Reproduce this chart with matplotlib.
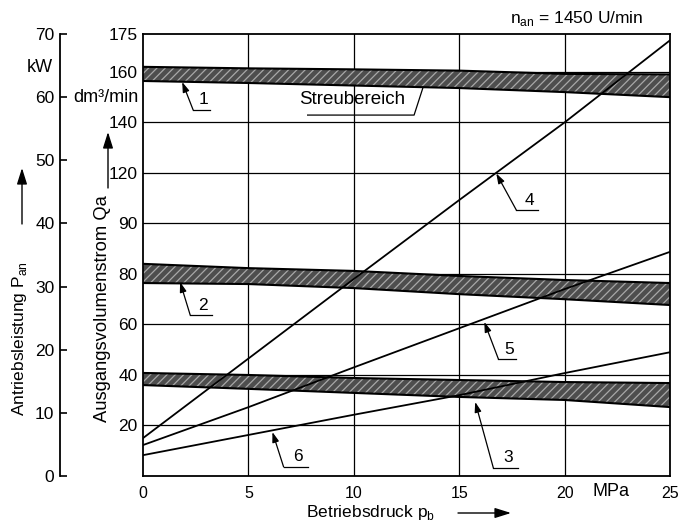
import numpy as np
import matplotlib
matplotlib.use("Agg")
import matplotlib.pyplot as plt

plt.rcParams['font.family'] = ['Liberation Sans', 'DejaVu Sans']
plt.rcParams['mathtext.fontset'] = 'custom'
plt.rcParams['mathtext.rm'] = 'Liberation Sans'
plt.rcParams['hatch.linewidth'] = 0.9

# Betriebsdruck p_b in MPa
pressure = [0, 5, 10, 15, 20, 25]

# Streubereiche (Ausgangsvolumenstrom Qa in dm3/min), upper / lower edge
band1_top = [162.0, 161.4, 161.0, 160.5, 159.2, 159.0]
band1_bot = [156.4, 155.6, 154.6, 153.6, 152.0, 150.0]
band2_top = [84.0, 82.3, 81.2, 79.2, 77.6, 76.4]
band2_bot = [76.4, 76.0, 74.4, 72.0, 70.0, 67.7]
band3_top = [40.8, 40.0, 38.8, 38.0, 37.2, 36.8]
band3_bot = [36.0, 34.5, 32.9, 31.3, 30.1, 27.3]

# Antriebsleistung P_an in kW
power4 = [6.0, 18.6, 31.2, 43.7, 56.0, 69.0]
power5 = [4.9, 10.9, 17.2, 23.4, 29.6, 35.5]
power6 = [3.3, 6.5, 9.7, 12.8, 16.3, 19.6]

q_ticks = [20, 40, 60, 80, 100, 120, 140, 160, 175]
q_labels = ['20', '40', '60', '80', '90', '120', '140', '160', '175']
p_ticks = [0, 5, 10, 15, 20, 25]
kw_ticks = [0, 10, 20, 30, 40, 50, 60, 70]

fig = plt.figure(figsize=(6.86, 5.22), dpi=100)
ax = fig.add_axes([143/686, 1 - 476/522, 527/686, 442/522])
ax.set_xlim(0, 25)
ax.set_ylim(0, 175)

# grid
for q in range(20, 175, 20):
    ax.axhline(q, color='k', lw=0.9, zorder=1)
for p in [5, 10, 15, 20]:
    ax.axvline(p, color='k', lw=0.9, zorder=1)

# bands
for top, bot in [(band1_top, band1_bot), (band2_top, band2_bot), (band3_top, band3_bot)]:
    ax.fill_between(pressure, bot, top, facecolor='#4e4e4e', edgecolor='#a8a8a8',
                    hatch='////', linewidth=0, zorder=2)
    ax.plot(pressure, top, color='k', lw=1.5, zorder=3)
    ax.plot(pressure, bot, color='k', lw=1.5, zorder=3)

ax.set_yticks(q_ticks)
ax.set_yticklabels(q_labels)
ax.set_xticks(p_ticks)
ax.tick_params(axis='both', length=0)
ax.tick_params(axis='y', pad=4, labelsize=12.5)
ax.tick_params(axis='x', pad=7, labelsize=11.5)
for s in ax.spines.values():
    s.set_linewidth(1.3)

# power axis
ax2 = ax.twinx()
ax2.set_ylim(0, 70)
ax2.yaxis.set_ticks_position('left')
ax2.spines['left'].set_position(('axes', -83/527))
ax2.spines['right'].set_visible(False)
ax2.spines['top'].set_visible(False)
ax2.spines['bottom'].set_visible(False)
ax2.spines['left'].set_linewidth(1.3)
ax2.set_yticks(kw_ticks)
ax2.tick_params(axis='y', direction='in', length=5, width=1.2, labelsize=12.5, pad=4)

ax2.plot(pressure, power4, color='k', lw=1.3)
ax2.plot(pressure, power5, color='k', lw=1.3)
ax2.plot(pressure, power6, color='k', lw=1.3)

# callouts: (label, tip, elbow, end of underline)
callouts = [
    ('1', (1.86, 156), (2.38, 144.9), (3.19, 144.9)),
    ('2', (1.76, 76.8), (2.24, 63.7), (3.29, 63.7)),
    ('3', (15.76, 29.3), (16.62, 3.2), (17.81, 3.2)),
    ('4', (16.76, 119.8), (17.71, 105.3), (18.76, 105.3)),
    ('5', (16.19, 61.0), (16.86, 46.3), (17.71, 46.3)),
    ('6', (6.14, 17.4), (6.67, 3.6), (7.81, 3.6)),
]
for lab, tip, elbow, end in callouts:
    ax.annotate('', xy=tip, xytext=elbow,
                arrowprops=dict(arrowstyle='-|>,head_length=0.6,head_width=0.2', color='k',
                                lw=0.9, mutation_scale=10, shrinkA=0, shrinkB=0), zorder=5)
    ax.plot([elbow[0], end[0]], [elbow[1], end[1]], color='k', lw=0.9, zorder=5)
    ax.text((elbow[0] + end[0]) / 2 + 0.1, elbow[1] + 1.0, lab, ha='center', va='bottom',
            fontsize=12.5, zorder=5)

ax.text(9.93, 149, 'Streubereich', ha='center', va='center', fontsize=13.5, zorder=5)
ax.plot([7.81, 12.86, 13.29], [142.9, 142.9, 154], color='k', lw=0.9, zorder=5)

# labels and units
fig.text(577/686, 1 - 18/522, r'n$_{\rm an}$ = 1450 U/min', ha='center', va='center', fontsize=12.5)
fig.text(53/686, 1 - 68/522, 'kW', ha='right', va='center', fontsize=13)
fig.text(139/686, 1 - 98/522, 'dm³/min', ha='right', va='center', fontsize=13)
fig.text(611/686, 1 - 491/522, 'MPa', ha='center', va='center', fontsize=13)
fig.text(20/686, 1 - 339/522, r'Antriebsleistung P$_{\rm an}$', rotation=90,
         ha='center', va='center', fontsize=12.5)
fig.text(103/686, 1 - 309/522, 'Ausgangsvolumenstrom Qa', rotation=90,
         ha='center', va='center', fontsize=13.2)
fig.text(371/686, 1 - 512/522, r'Betriebsdruck p$_{\rm b}$', ha='center', va='center', fontsize=12.5)

arrow = dict(arrowstyle='-|>,head_length=0.7,head_width=0.22', color='k', lw=1.0,
             mutation_scale=14, shrinkA=0, shrinkB=0)
fig.add_artist(matplotlib.patches.FancyArrowPatch((22/686, 1 - 224/522), (22/686, 1 - 168/522),
                                                  transform=fig.transFigure, **arrow))
fig.add_artist(matplotlib.patches.FancyArrowPatch((108/686, 1 - 188/522), (108/686, 1 - 132/522),
                                                  transform=fig.transFigure, **arrow))
fig.add_artist(matplotlib.patches.FancyArrowPatch((458/686, 1 - 513/522), (511/686, 1 - 513/522),
                                                  transform=fig.transFigure, **arrow))

fig.savefig('out.png', dpi=100)
